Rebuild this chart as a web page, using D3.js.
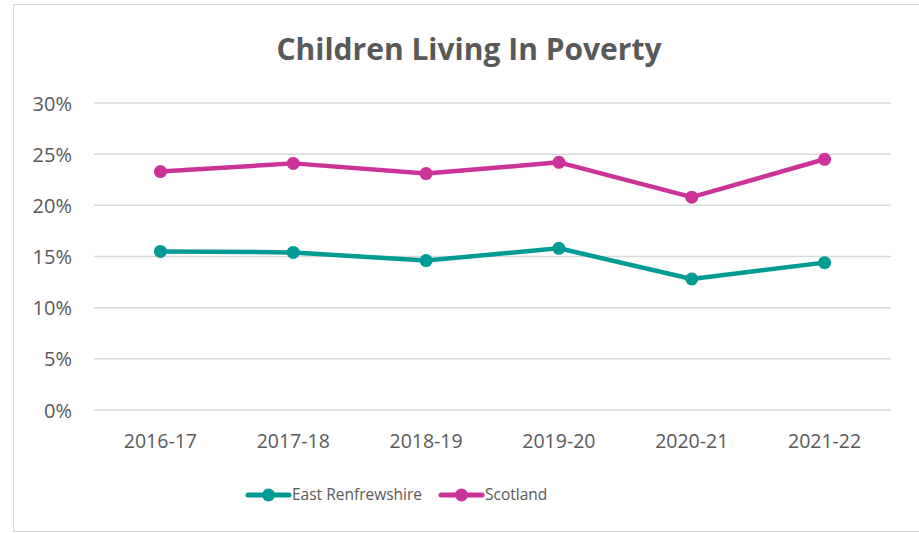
<!DOCTYPE html>
<html>
<head>
<meta charset="utf-8">
<script src="https://cdn.jsdelivr.net/npm/d3@7"></script>
<style>
  body { margin: 0; background: #fff; }
  svg { display: block; }
  text { font-family: "Open Sans", sans-serif; fill: #595959; }
</style>
</head>
<body>
<svg id="chart" width="919" height="533"></svg>
<script>
// data
const years = ["2016-17", "2017-18", "2018-19", "2019-20", "2020-21", "2021-22"];
const eastRenfrewshire = [15.5, 15.4, 14.6, 15.8, 12.8, 14.4];
const scotland = [23.3, 24.1, 23.1, 24.2, 20.8, 24.5];
const yTicks = [0, 5, 10, 15, 20, 25, 30];

const series = [
  { name: "East Renfrewshire", values: eastRenfrewshire, color: "#009B95" },
  { name: "Scotland", values: scotland, color: "#CC3399" }
];

const svg = d3.select("#chart");
const W = 919, H = 533;

// outer chart frame
svg.append("rect")
  .attr("x", 13.5).attr("y", 4.5)
  .attr("width", W + 10).attr("height", 527)
  .attr("fill", "#fff")
  .attr("stroke", "#d9d9d9")
  .attr("stroke-width", 1);

const m = { left: 94, right: 891, top: 103, bottom: 410 };

const x = d3.scaleBand().domain(years).range([m.left, m.right]);
const y = d3.scaleLinear().domain([0, 30]).range([m.bottom, m.top]);

// title
svg.append("text")
  .attr("x", 469).attr("y", 60)
  .attr("text-anchor", "middle")
  .style("font-size", "30px")
  .style("font-weight", "bold")
  .text("Children Living In Poverty");

// gridlines
svg.append("g")
  .selectAll("line")
  .data(yTicks)
  .join("line")
  .attr("x1", m.left).attr("x2", m.right)
  .attr("y1", d => y(d)).attr("y2", d => y(d))
  .attr("stroke", "#d9d9d9")
  .attr("stroke-width", 1.5);

// y axis labels
const yAxis = svg.append("g")
  .attr("transform", `translate(${m.left - 22},0)`)
  .call(d3.axisLeft(y).tickValues(yTicks).tickSize(0).tickFormat(d => d + "%"));
yAxis.select(".domain").remove();
yAxis.selectAll("text")
  .attr("x", 0)
  .attr("dy", "0.35em")
  .style("font-size", "20px")
  .style("font-family", "Open Sans, sans-serif")
  .attr("fill", "#595959");

// x axis labels
const xAxis = svg.append("g")
  .attr("transform", `translate(0,${m.bottom})`)
  .call(d3.axisBottom(x).tickSize(0));
xAxis.select(".domain").remove();
xAxis.selectAll("text")
  .attr("y", 31)
  .attr("dy", "0.35em")
  .style("font-size", "19.5px")
  .style("font-family", "Open Sans, sans-serif")
  .attr("fill", "#595959");

const line = d3.line()
  .x((d, i) => x(years[i]) + x.bandwidth() / 2)
  .y(d => y(d));

series.forEach(s => {
  svg.append("path")
    .datum(s.values)
    .attr("d", line)
    .attr("fill", "none")
    .attr("stroke", s.color)
    .attr("stroke-width", 4.5)
    .attr("stroke-linejoin", "round");

  svg.append("g")
    .selectAll("circle")
    .data(s.values)
    .join("circle")
    .attr("cx", (d, i) => x(years[i]) + x.bandwidth() / 2)
    .attr("cy", d => y(d))
    .attr("r", 6.5)
    .attr("fill", s.color);
});

// legend
const legendX = [248, 441];
const legend = svg.append("g")
  .selectAll("g")
  .data(series)
  .join("g")
  .attr("transform", (d, i) => `translate(${legendX[i]},495)`);
legend.append("line")
  .attr("x1", 0).attr("x2", 41)
  .attr("stroke", d => d.color)
  .attr("stroke-width", 5)
  .attr("stroke-linecap", "round");
legend.append("circle")
  .attr("cx", 20.5).attr("r", 6.5)
  .attr("fill", d => d.color);
legend.append("text")
  .attr("x", 44)
  .attr("dy", "0.35em")
  .style("font-size", "15.5px")
  .text(d => d.name);
</script>
</body>
</html>
